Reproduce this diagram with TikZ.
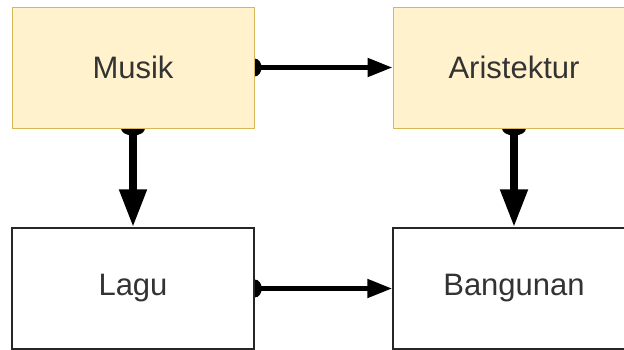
\documentclass[tikz,border=0pt]{standalone}
\usepackage{fontspec}
\setmainfont{Liberation Sans}
\usetikzlibrary{arrows.meta}
\definecolor{yfill}{HTML}{FFF2CC}
\definecolor{ystroke}{HTML}{D6B656}
\definecolor{txtc}{HTML}{333333}
\pgfdeclarelayer{bglayer}
\pgfdeclarelayer{edgelayer}
\pgfsetlayers{bglayer,edgelayer,main}
\begin{document}
\begin{tikzpicture}[x=1pt,y=-1pt,
  box/.style={draw,minimum width=242pt,minimum height=121pt,inner sep=0pt,
    font=\fontsize{31}{36}\selectfont,text=txtc},
  ybox/.style={box,fill=yfill,draw=ystroke,line width=1pt},
  wbox/.style={box,fill=white,draw=black!85,line width=1.5pt},
  hconn/.style={line width=5pt,-{Triangle[length=25pt,width=18pt]}},
  vconn/.style={line width=8pt,-{Triangle[length=38pt,width=26pt]}},
  hdot/.style={x radius=7pt, y radius=9pt},
  vdot/.style={x radius=12pt, y radius=7pt}]
\useasboundingbox (0,0) rectangle (624,349);
\clip (0,0) rectangle (624,349);
\begin{pgfonlayer}{bglayer}
  \fill[white] (0,0) rectangle (624,349);
\end{pgfonlayer}
\node[ybox] (m) at (133,67.5) {Musik};
\node[ybox] (a) at (514,67.5) {Aristektur};
\node[wbox] (l) at (133,288.5) {Lagu};
\node[wbox] (b) at (514,288.5) {Bangunan};
\begin{pgfonlayer}{edgelayer}
  \draw[hconn] (m.east) -- (a.west);
  \fill (m.east) ellipse [hdot];
  \draw[hconn] (l.east) -- (b.west);
  \fill (l.east) ellipse [hdot];
  \draw[vconn] (m.south) -- (l.north);
  \fill (m.south) ellipse [vdot];
  \draw[vconn] (a.south) -- (b.north);
  \fill (a.south) ellipse [vdot];
\end{pgfonlayer}
\end{tikzpicture}
\end{document}
